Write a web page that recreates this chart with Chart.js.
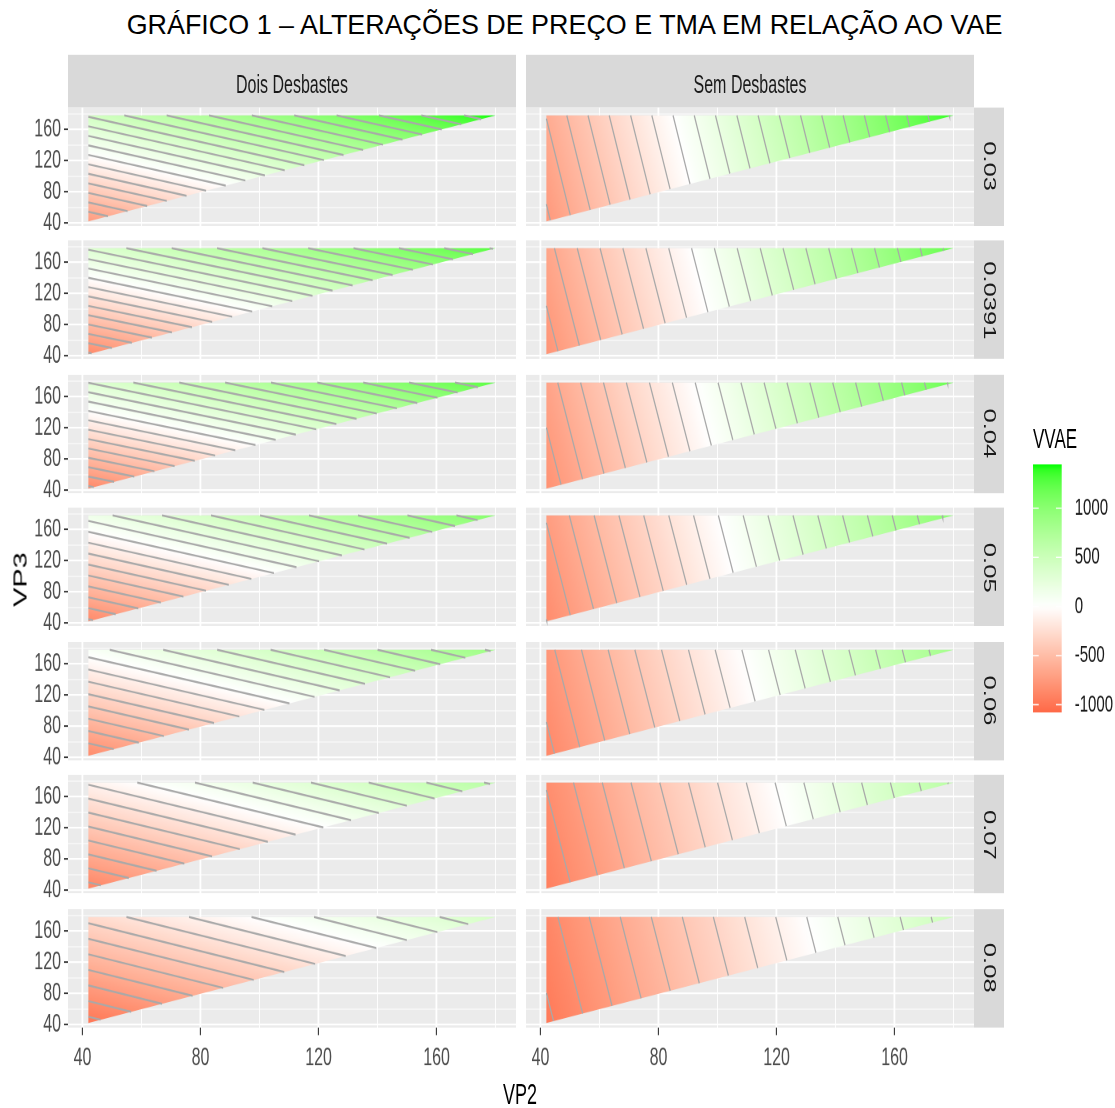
<!DOCTYPE html>
<html>
<head>
<meta charset="utf-8">
<script src="https://cdn.jsdelivr.net/npm/chart.js@4.4.0/dist/chart.umd.min.js"></script>
<style>
  html, body { margin: 0; padding: 0; background: #fff; }
  body { width: 1115px; height: 1108px; position: relative; overflow: hidden;
         font-family: "Liberation Sans", Arial, sans-serif; }
  #title { position: absolute; left: 0; top: 10px; width: 1129px; text-align: center;
           font-size: 26.9px; color: #000; white-space: nowrap; }
  /* the original figure is stretched vertically, so the whole facet grid is too */
  #fig { position: absolute; left: 0; top: 50px; width: 1115px; height: 662px;
         transform: scaleY(1.6); transform-origin: 0 0; }
  .strip { position: absolute; background: #d9d9d9; color: #1a1a1a; font-size: 16px;
           display: flex; align-items: center; justify-content: center; box-sizing: border-box; }
  .strip.top { padding-top: 6px; }
  .strip.side span { writing-mode: vertical-rl; }
  .lbl { position: absolute; white-space: nowrap; color: #000; }
  canvas { position: absolute; }
</style>
</head>
<body>
<div id="title">GRÁFICO 1 – ALTERAÇÕES DE PREÇO E TMA EM RELAÇÃO AO VAE</div>
<div id="fig"></div>
<script>
// facets
const facetCols = ['Dois Desbastes', 'Sem Desbastes'];
const tmaRows = ['0.03', '0.0391', '0.04', '0.05', '0.06', '0.07', '0.08'];

// corners of the tiled triangle (VP2, VP3): bottom-left, top-left, top-right
const triVP2 = [42, 42, 180];
const triVP3 = [42, 178, 178];

// VVAE read at those three corners, one entry per TMA row
const doisBL = [-736, -859, -870, -863, -842, -889, -989];
const doisTL = [437, 333, 318, 158, 63, -89, -274];
const doisTR = [1446, 1276, 1250, 1031, 863, 652, 410];
const semBL = [-757, -793, -808, -844, -876, -935, -973];
const semTL = [-627, -668, -683, -728, -769, -835, -881];
const semTR = [1389, 1206, 1186, 996, 833, 652, 497];

// contour breaks
const contourLevels = [-1052, -947, -842, -736, -631, -526, -421, -316, -210, -105, 0,
  105, 210, 316, 421, 526, 631, 736, 842, 947, 1052, 1157, 1262, 1368];

// axes and legend
const majorTicks = [40, 80, 120, 160];
const minorTicks = [60, 100, 140, 180];
const xRange = [35.1, 186.9];
const yRange = [36, 188];
const legendTicks = [-1000, -500, 0, 500, 1000];
const vvaeRange = [-1078, 1446];

// layout (unstretched px inside #fig)
const colX = [68, 526];
const panelW = 448;
const panelH = 74;
const rowTop = i => 35.6 + 83.5 * i;
const xAxisH = 30;
const labelRoom = 8;   // room above/below a panel for overhanging tick labels
const FONT = 'Liberation Sans';

const fig = document.getElementById('fig');
const gridTicks = [...majorTicks, ...minorTicks].sort((a, b) => a - b);

// ---- colour scale: gradient2(low = red, mid = white, high = green), Lab interpolation
function toLab(hex) {
  const c = [1, 3, 5].map(i => parseInt(hex.substr(i, 2), 16) / 255)
    .map(u => u <= 0.04045 ? u / 12.92 : Math.pow((u + 0.055) / 1.055, 2.4));
  const X = (0.4124 * c[0] + 0.3576 * c[1] + 0.1805 * c[2]) / 0.95047;
  const Y = 0.2126 * c[0] + 0.7152 * c[1] + 0.0722 * c[2];
  const Z = (0.0193 * c[0] + 0.1192 * c[1] + 0.9505 * c[2]) / 1.08883;
  const f = t => t > 0.008856 ? Math.cbrt(t) : 7.787 * t + 16 / 116;
  return [116 * f(Y) - 16, 500 * (f(X) - f(Y)), 200 * (f(Y) - f(Z))];
}
function fromLab([L, a, b]) {
  const fy = (L + 16) / 116, fx = fy + a / 500, fz = fy - b / 200;
  const g = t => t * t * t > 0.008856 ? t * t * t : (t - 16 / 116) / 7.787;
  const X = 0.95047 * g(fx), Y = g(fy), Z = 1.08883 * g(fz);
  const lin = [
    3.2406 * X - 1.5372 * Y - 0.4986 * Z,
    -0.9689 * X + 1.8758 * Y + 0.0415 * Z,
    0.0557 * X - 0.2040 * Y + 1.0570 * Z
  ];
  const s = lin.map(u => {
    u = Math.min(1, Math.max(0, u));
    const v = u <= 0.0031308 ? 12.92 * u : 1.055 * Math.pow(u, 1 / 2.4) - 0.055;
    return Math.round(v * 255);
  });
  return `rgb(${s[0]},${s[1]},${s[2]})`;
}
const labLow = toLab('#ff0000'), labMid = toLab('#ffffff'), labHigh = toLab('#00ff00');
function vvaeColour(v) {
  const ext = Math.max(Math.abs(vvaeRange[0]), Math.abs(vvaeRange[1]));
  let t = 0.5 + v / (2 * ext);
  t = Math.min(1, Math.max(0, t));
  const [a, b, f] = t < 0.5 ? [labMid, labLow, (0.5 - t) / 0.5] : [labMid, labHigh, (t - 0.5) / 0.5];
  return fromLab(a.map((x, k) => x + (b[k] - x) * f));
}

// ---- linear surface through the corner values, as a canvas gradient
function surfaceGradient(chart, corners, values) {
  if (!chart.chartArea) return '#ebebeb';
  const sx = chart.scales.x, sy = chart.scales.y;
  const p = corners.map(c => [sx.getPixelForValue(c.x), sy.getPixelForValue(c.y)]);
  const [x1, y1] = p[0];
  const dx2 = p[1][0] - x1, dy2 = p[1][1] - y1, dx3 = p[2][0] - x1, dy3 = p[2][1] - y1;
  const dv2 = values[1] - values[0], dv3 = values[2] - values[0];
  const det = dx2 * dy3 - dx3 * dy2;
  const A = (dv2 * dy3 - dv3 * dy2) / det;
  const B = (dx2 * dv3 - dx3 * dv2) / det;
  const g2 = A * A + B * B;
  const lo = Math.min(...values), hi = Math.max(...values);
  const at = v => [x1 + (v - values[0]) * A / g2, y1 + (v - values[0]) * B / g2];
  const [ax, ay] = at(lo), [bx, by] = at(hi);
  const grad = chart.ctx.createLinearGradient(ax, ay, bx, by);
  const n = 48;
  for (let k = 0; k <= n; k++) grad.addColorStop(k / n, vvaeColour(lo + (hi - lo) * k / n));
  return grad;
}

// contour segments of the surface across the triangle
function contourSegments(corners, values) {
  const segs = [];
  contourLevels.forEach(L => {
    const pts = [];
    for (let k = 0; k < 3; k++) {
      const a = corners[k], b = corners[(k + 1) % 3];
      const va = values[k], vb = values[(k + 1) % 3];
      if ((va - L) * (vb - L) < 0) {
        const t = (L - va) / (vb - va);
        pts.push({ x: a.x + t * (b.x - a.x), y: a.y + t * (b.y - a.y) });
      }
    }
    if (pts.length === 2) segs.push(pts);
  });
  return segs;
}

const panelBg = {
  id: 'panelBg',
  beforeDraw(chart) {
    const { ctx, chartArea: a } = chart;
    ctx.save();
    ctx.fillStyle = '#ebebeb';
    ctx.fillRect(a.left, a.top, a.width, a.height);
    ctx.restore();
  }
};

const isMajor = c => !!(c.tick && majorTicks.includes(c.tick.value));

// fixed axis size, and no extra room for labels that overhang the panel
function fixSize(s, size, horizontal) {
  if (horizontal) s.height = size; else s.width = size;
  s.paddingTop = s.paddingBottom = s.paddingLeft = s.paddingRight = 0;
}

function axisOpts(range, showLabels, fitSize, horizontal) {
  return {
    type: 'linear', min: range[0], max: range[1],
    afterBuildTicks: s => { s.ticks = gridTicks.map(v => ({ value: v })); },
    afterFit: s => fixSize(s, fitSize, horizontal),
    border: { display: false },
    grid: {
      color: '#ffffff',
      lineWidth: c => isMajor(c) ? (horizontal ? 1.8 : 1.1) : (horizontal ? 0.9 : 0.6),
      drawTicks: showLabels,
      tickLength: horizontal ? 4.7 : 4,
      tickColor: c => isMajor(c) ? '#333333' : 'rgba(0,0,0,0)',
      tickWidth: horizontal ? 1.1 : 1
    },
    ticks: {
      display: showLabels, autoSkip: false, maxRotation: 0,
      padding: horizontal ? 5 : 3,
      color: '#4d4d4d',
      font: { family: FONT, size: 16 },
      callback: v => majorTicks.includes(v) ? String(v) : ''
    }
  };
}

function addPanel(col, row) {
  const isLeft = col === 0;
  const isBottom = row === tmaRows.length - 1;
  const padTop = labelRoom, padBottom = isBottom ? 0 : labelRoom;
  const left = isLeft ? 0 : colX[1];
  const w = isLeft ? colX[0] + panelW : panelW;
  const h = padTop + panelH + padBottom + (isBottom ? xAxisH : 0);
  const cv = document.createElement('canvas');
  cv.width = w; cv.height = h;
  cv.style.left = left + 'px';
  cv.style.top = (rowTop(row) - padTop) + 'px';
  fig.appendChild(cv);

  const values = col === 0 ? [doisBL[row], doisTL[row], doisTR[row]]
                           : [semBL[row], semTL[row], semTR[row]];
  const corners = triVP2.map((x, k) => ({ x, y: triVP3[k] }));

  const datasets = [{
    data: [...corners, corners[0]],
    fill: 'shape',
    borderWidth: 0,
    pointRadius: 0,
    tension: 0,
    order: 2,
    backgroundColor: ctx => surfaceGradient(ctx.chart, corners, values)
  }];
  contourSegments(corners, values).forEach(seg => datasets.push({
    data: seg, fill: false, borderColor: '#a9a9a9', borderWidth: 1.2,
    pointRadius: 0, tension: 0, order: 1
  }));

  new Chart(cv, {
    type: 'line',
    data: { datasets },
    options: {
      responsive: false, animation: false, devicePixelRatio: 2, events: [],
      layout: { padding: { top: padTop, bottom: padBottom, left: 0, right: 0 } },
      plugins: { legend: { display: false }, tooltip: { enabled: false } },
      scales: {
        x: axisOpts(xRange, isBottom, isBottom ? xAxisH : 0, true),
        y: axisOpts(yRange, isLeft, isLeft ? colX[0] : 0, false)
      }
    },
    plugins: [panelBg]
  });
}

// strips
facetCols.forEach((name, c) => {
  const d = document.createElement('div');
  d.className = 'strip top';
  Object.assign(d.style, { left: colX[c] + 'px', top: '3.1px', width: panelW + 'px', height: '32.5px' });
  d.textContent = name;
  fig.appendChild(d);
});
tmaRows.forEach((name, r) => {
  const d = document.createElement('div');
  d.className = 'strip side';
  Object.assign(d.style, { left: (colX[1] + panelW) + 'px', top: rowTop(r) + 'px', width: '30px', height: panelH + 'px' });
  const s = document.createElement('span');
  s.textContent = name;
  d.appendChild(s);
  fig.appendChild(d);
});

for (let r = 0; r < tmaRows.length; r++) for (let c = 0; c < facetCols.length; c++) addPanel(c, r);

// axis titles
function label(text, x, y, size, rot) {
  const d = document.createElement('div');
  d.className = 'lbl';
  d.textContent = text;
  Object.assign(d.style, { left: x + 'px', top: y + 'px', fontSize: size + 'px',
    transform: `translate(-50%,-50%)${rot ? ' rotate(' + rot + 'deg)' : ''}` });
  fig.appendChild(d);
}
label('VP2', 520, 653, 18);
label('VP3', 21, 331, 18, -90);

// legend: title + colour bar drawn as a floating bar on a VVAE scale
const lt = document.createElement('div');
lt.className = 'lbl';
lt.textContent = 'VVAE';
Object.assign(lt.style, { left: '1033px', top: '244.4px', fontSize: '17px', transform: 'translateY(-50%)' });
fig.appendChild(lt);

const barW = 28.7;
const lc = document.createElement('canvas');
lc.width = 82; lc.height = 155;
lc.style.left = '1033px';
lc.style.top = '259px';
fig.appendChild(lc);

const barTicks = {
  id: 'barTicks',
  afterDatasetsDraw(chart) {
    const { ctx, chartArea: a, scales: { y } } = chart;
    ctx.save();
    ctx.strokeStyle = '#ffffff';
    ctx.lineWidth = 0.8;
    legendTicks.forEach(v => {
      const py = y.getPixelForValue(v);
      ctx.beginPath();
      ctx.moveTo(a.left, py); ctx.lineTo(a.left + a.width / 5, py);
      ctx.moveTo(a.right - a.width / 5, py); ctx.lineTo(a.right, py);
      ctx.stroke();
    });
    ctx.restore();
  }
};

new Chart(lc, {
  type: 'bar',
  data: {
    labels: ['VVAE'],
    datasets: [{
      data: [vvaeRange],
      barPercentage: 1, categoryPercentage: 1, borderWidth: 0,
      backgroundColor: ctx => {
        const ch = ctx.chart;
        if (!ch.chartArea) return '#ffffff';
        const y = ch.scales.y;
        const g = ch.ctx.createLinearGradient(0, y.getPixelForValue(vvaeRange[0]), 0, y.getPixelForValue(vvaeRange[1]));
        const n = 48;
        for (let k = 0; k <= n; k++) g.addColorStop(k / n, vvaeColour(vvaeRange[0] + (vvaeRange[1] - vvaeRange[0]) * k / n));
        return g;
      }
    }]
  },
  options: {
    responsive: false, animation: false, devicePixelRatio: 2, events: [],
    layout: { padding: 0 },
    plugins: { legend: { display: false }, tooltip: { enabled: false } },
    scales: {
      x: { display: false },
      y: {
        position: 'right', min: vvaeRange[0], max: vvaeRange[1],
        afterBuildTicks: s => { s.ticks = legendTicks.map(v => ({ value: v })); },
        afterFit: s => fixSize(s, 82 - barW, false),
        grid: { display: false }, border: { display: false },
        ticks: { padding: 5, color: '#1a1a1a', font: { family: FONT, size: 15 }, callback: v => String(v) }
      }
    }
  },
  plugins: [barTicks]
});
</script>
</body>
</html>
